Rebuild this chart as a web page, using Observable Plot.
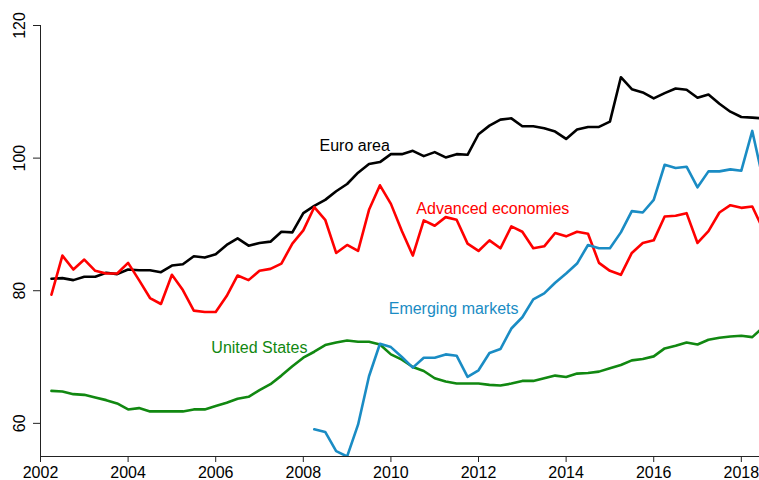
<!DOCTYPE html>
<html>
<head>
<meta charset="utf-8">
<script src="https://cdn.jsdelivr.net/npm/d3@7"></script>
<script src="https://cdn.jsdelivr.net/npm/@observablehq/plot@0.6"></script>
<style>
  html, body { margin: 0; padding: 0; background: #fff; }
  #chart { width: 759px; height: 480px; }
</style>
</head>
<body>
<div id="chart"></div>
<script>
// Quarterly index values, starting 2002 Q2 (2002.25)
const startYear = 2002.25;
const euroArea = [81.8,81.9,81.6,82.1,82.1,82.7,82.5,83.2,83.1,83.1,
  82.8,83.8,84.0,85.2,85.0,85.5,86.9,87.9,86.8,87.2,
  87.4,88.9,88.8,91.7,92.8,93.7,95.0,96.1,97.8,99.1,
  99.4,100.6,100.6,101.1,100.3,100.9,100.1,100.6,100.5,103.6,
  104.9,105.8,106.0,104.8,104.8,104.5,104.0,102.9,104.3,104.7,
  104.7,105.5,112.2,110.4,109.9,109.0,109.8,110.5,110.3,109.1,
  109.6,108.2,107.0,106.2,106.1,106.0];
const advanced = [79.4,85.3,83.2,84.7,83.0,82.6,82.6,84.2,81.6,78.9,
  78.0,82.4,80.1,77.0,76.8,76.8,79.2,82.3,81.6,83.0,
  83.3,84.1,87.1,89.1,92.6,90.7,85.7,86.9,86.0,92.2,
  95.9,93.1,89.0,85.3,90.6,89.8,91.1,90.7,87.1,86.0,
  87.6,86.4,89.7,88.9,86.4,86.7,88.7,88.2,88.9,88.6,
  84.2,83.0,82.4,85.7,87.2,87.6,91.2,91.3,91.7,87.2,
  89.0,91.8,92.9,92.5,92.7,89.2];
const unitedStates = [64.9,64.8,64.4,64.3,63.9,63.5,63.0,62.1,62.3,61.8,
  61.8,61.8,61.8,62.1,62.1,62.6,63.1,63.7,64.0,65.0,
  65.9,67.2,68.6,69.9,70.8,71.8,72.2,72.5,72.3,72.3,
  71.9,70.4,69.6,68.5,67.9,66.8,66.3,66.0,66.0,66.0,
  65.8,65.7,66.0,66.4,66.4,66.8,67.2,67.0,67.5,67.6,
  67.8,68.3,68.8,69.5,69.7,70.1,71.3,71.7,72.2,71.9,
  72.6,72.9,73.1,73.2,73.0,74.5];
// Emerging markets series starts 2008 Q2 (2008.25)
const emergingStart = 2008.25;
const emerging = [59.1,58.7,55.8,55.0,59.8,67.1,72.0,71.5,70.0,68.4,
  69.9,69.9,70.4,70.2,67.0,68.0,70.6,71.2,74.3,76.0,
  78.7,79.6,81.2,82.6,84.1,86.9,86.4,86.4,88.8,92.0,
  91.8,93.7,99.0,98.5,98.7,95.6,98.0,98.0,98.3,98.1,
  104.1,96.6];

const xTicks = [2002,2004,2006,2008,2010,2012,2014,2016,2018];
const yTicks = [60,80,100,120];

const seriesNames = ["Euro area","Advanced economies","United States","Emerging markets"];
const seriesColors = ["#000000","#ff0000","#118811","#1a8cc4"];
// label anchor points (data units)
const labelX = [2008.37, 2010.58, 2005.9, 2009.95];
const labelY = [101.9, 92.4, 71.45, 77.2];

function toRows(values, start, name) {
  return values.map((v, i) => ({date: start + i * 0.25, value: v, series: name}));
}
const rows = [
  ...toRows(euroArea, startYear, seriesNames[0]),
  ...toRows(advanced, startYear, seriesNames[1]),
  ...toRows(unitedStates, startYear, seriesNames[2]),
  ...toRows(emerging, emergingStart, seriesNames[3])
];
const labels = seriesNames.map((n, i) => ({name: n, x: labelX[i], y: labelY[i], color: seriesColors[i]}));

const font = "Liberation Sans, Arial, Helvetica, sans-serif";

const chart = Plot.plot({
  width: 759,
  height: 480,
  marginLeft: 40,
  marginRight: 0,
  marginTop: 25,
  marginBottom: 24,
  style: {fontFamily: font, fontSize: "16px", background: "#fff", overflow: "visible"},
  x: {domain: [2002, 2018.415], axis: null},
  y: {domain: [55, 120], axis: null},
  color: {domain: seriesNames, range: seriesColors},
  marks: [
    Plot.lineY(rows, {x: "date", y: "value", z: "series", stroke: "series", strokeWidth: 2.6, clip: true}),
    Plot.text(labels, {x: "x", y: "y", text: "name", fill: "color", textAnchor: "start", lineAnchor: "middle", fontSize: 16, fontFamily: font}),
    Plot.ruleX([2002], {stroke: "#222", strokeWidth: 1}),
    Plot.ruleY([55], {stroke: "#222", strokeWidth: 1}),
    Plot.axisX({ticks: xTicks, tickFormat: d => String(d), tickSize: 6, tickPadding: 4, fontSize: 16, fontFamily: font, stroke: "#222"}),
    Plot.axisY({ticks: yTicks, tickSize: 7, tickFormat: () => "", stroke: "#222"}),
    Plot.text(yTicks, {x: () => 2002, y: d => d, text: d => String(d), rotate: -90, dx: -21, textAnchor: "middle", lineAnchor: "middle", fontSize: 16, fontFamily: font, fill: "#000"})
  ]
});
document.getElementById("chart").appendChild(chart);
</script>
</body>
</html>
